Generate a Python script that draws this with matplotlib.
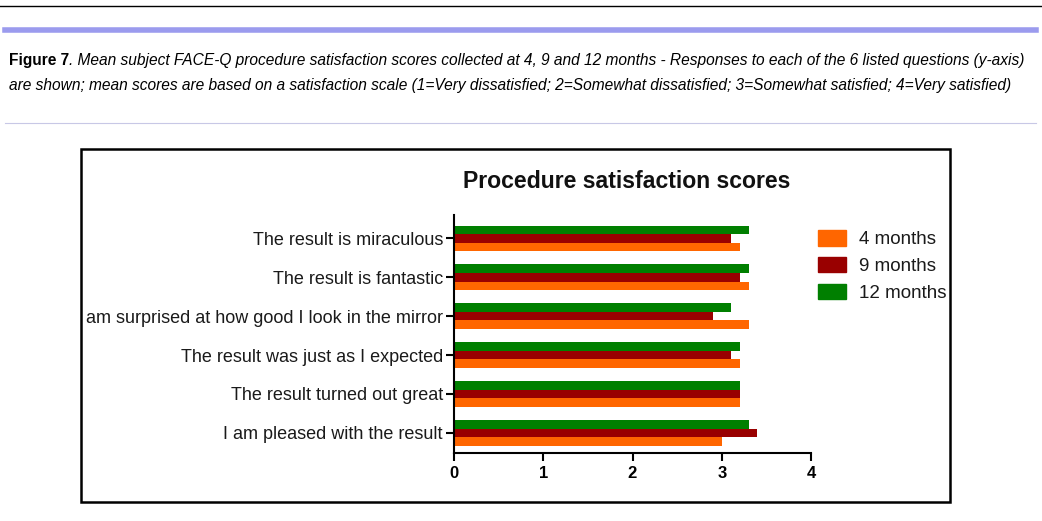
import numpy as np
import matplotlib
matplotlib.use("Agg")
import matplotlib.pyplot as plt
from matplotlib.patches import Rectangle, Patch
from matplotlib.transforms import Bbox, TransformedBbox

plt.rcParams['font.family'] = ['Liberation Sans', 'DejaVu Sans']

# Questions (bottom to top as drawn on the y-axis)
questions = [
    "I am pleased with the result",
    "The result turned out great",
    "The result was just as I expected",
    "I am surprised at how good I look in the mirror",
    "The result is fantastic",
    "The result is miraculous",
]
months_4 = [3.0, 3.2, 3.2, 3.3, 3.3, 3.2]
months_9 = [3.4, 3.2, 3.1, 2.9, 3.2, 3.1]
months_12 = [3.3, 3.2, 3.2, 3.1, 3.3, 3.3]
series_labels = ["4 months", "9 months", "12 months"]
series_colors = ["#FF6600", "#990000", "#007F00"]
x_ticks = [0, 1, 2, 3, 4]

W, H = 1042, 521
fig = plt.figure(figsize=(W / 100, H / 100), dpi=100)

def fx(px):
    return px / W

def fy(py):
    return 1 - py / H

# page decorations above the chart
fig.add_artist(plt.Line2D([0, 1], [fy(6), fy(6)], color="black", lw=1.0))
fig.add_artist(plt.Line2D([fx(5), fx(1036)], [fy(30), fy(30)], color="#9b9bee", lw=4.0))
fig.add_artist(plt.Line2D([fx(5), fx(1036)], [fy(123), fy(123)], color="#c8c8e6", lw=0.8))

cap_size = 11.2
t1 = fig.text(fx(9), fy(65), "Figure 7", fontsize=cap_size, fontweight="bold",
              va="baseline", ha="left")
fig.text(fx(9), fy(90),
         "are shown; mean scores are based on a satisfaction scale (1=Very dissatisfied; "
         "2=Somewhat dissatisfied; 3=Somewhat satisfied; 4=Very satisfied)",
         fontsize=cap_size, style="italic", va="baseline", ha="left")
# continue the first caption line right after the bold part
fig.canvas.draw()
ext = t1.get_window_extent()
x_end = fig.transFigure.inverted().transform((ext.x1, 0))[0]
fig.text(x_end, fy(65),
         ". Mean subject FACE-Q procedure satisfaction scores collected at 4, 9 and 12 months "
         "- Responses to each of the 6 listed questions (y-axis)",
         fontsize=cap_size, style="italic", va="baseline", ha="left")

# chart frame
bx0, by0, bx1, by1 = 81, 149, 950, 502
frame = Rectangle((fx(bx0), fy(by1)), fx(bx1) - fx(bx0), fy(by0) - fy(by1),
                  transform=fig.transFigure, fill=False, edgecolor="black", lw=1.8)
fig.add_artist(frame)
clip = TransformedBbox(Bbox([[fx(bx0 + 1), fy(by1)], [fx(bx1 - 1), fy(by0)]]), fig.transFigure)

ax = fig.add_axes([fx(454), fy(453), fx(811) - fx(454), fy(215) - fy(453)])

y = np.arange(len(questions))
h = 0.22
ax.barh(y - h, months_4, height=h, color=series_colors[0], label=series_labels[0])
ax.barh(y, months_9, height=h, color=series_colors[1], label=series_labels[1])
ax.barh(y + h, months_12, height=h, color=series_colors[2], label=series_labels[2])

ax.set_xlim(0, 4)
ax.set_ylim(-0.52, 5.6)
ax.set_xticks(x_ticks)
ax.set_xticklabels([str(v) for v in x_ticks], fontsize=12, fontweight="bold")
ax.set_yticks(y)
ax.set_yticklabels(questions, fontsize=13, color="#1a1a1a")
for lbl in ax.get_yticklabels():
    lbl.set_clip_box(clip)
    lbl.set_clip_on(True)

ax.spines['top'].set_visible(False)
ax.spines['right'].set_visible(False)
ax.spines['left'].set_linewidth(1.5)
ax.spines['bottom'].set_linewidth(1.5)
ax.tick_params(axis='y', length=6, width=1.5, pad=2)
ax.tick_params(axis='x', length=6, width=1.5, pad=3)

fig.text(fx(627), fy(181), "Procedure satisfaction scores", fontsize=16.6,
         fontweight="bold", ha="center", va="center", color="#111111")

handles = [Patch(facecolor=c, edgecolor=c) for c in series_colors]
leg = fig.legend(handles, series_labels, loc="upper left",
                 bbox_to_anchor=(fx(818), fy(230)), frameon=False, fontsize=13.5,
                 handlelength=1.5, handleheight=0.9, handletextpad=0.7,
                 labelspacing=0.46, borderaxespad=0, borderpad=0)
for txt in leg.get_texts():
    txt.set_clip_box(clip)
    txt.set_clip_on(True)
    txt.set_color("#1a1a1a")

fig.savefig("out.png", dpi=100)
